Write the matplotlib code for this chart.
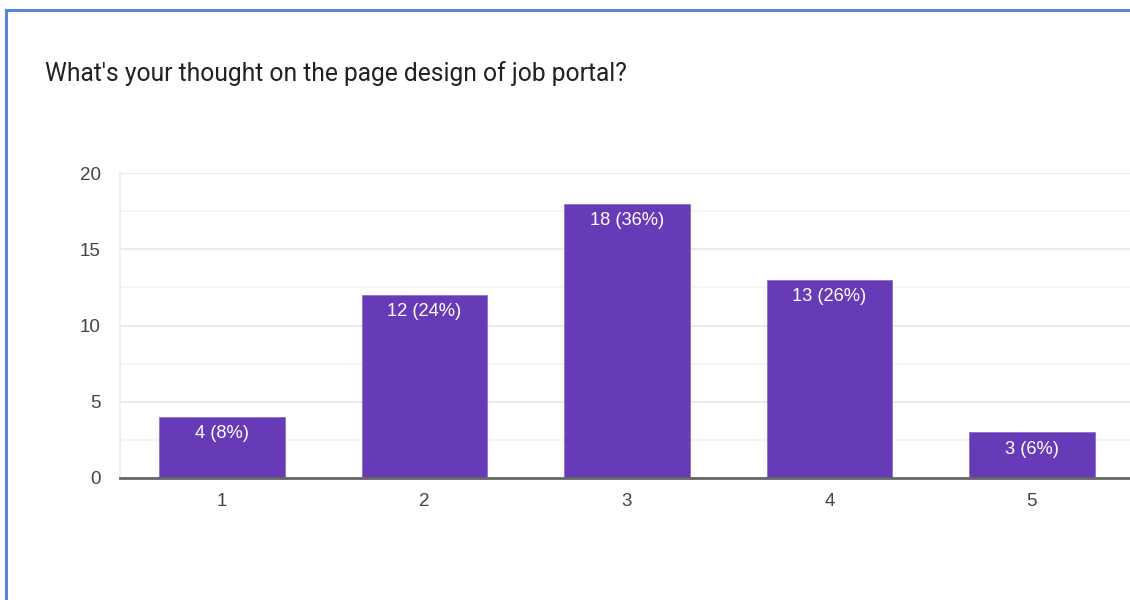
import matplotlib.pyplot as plt
from matplotlib.lines import Line2D

plt.rcParams['font.family'] = ['Liberation Sans', 'DejaVu Sans']

ratings = ['1', '2', '3', '4', '5']
counts = [4, 12, 18, 13, 3]
percents = [8, 24, 36, 26, 6]
title = "What's your thought on the page design of job portal?"

W, H = 1130, 600
fig = plt.figure(figsize=(W / 100, H / 100), dpi=100)

# card outline (blue, top and left edges)
fig.add_artist(Line2D([6 / W, 1], [1 - 10 / H, 1 - 10 / H], color='#5b85d6', lw=2.2))
fig.add_artist(Line2D([6 / W, 6 / W], [0, 1 - 10 / H], color='#5b85d6', lw=2.2))

fig.text(45 / W, 1 - 74 / H, title, fontsize=17.7, color='#202124', va='center',
         family=['Roboto', 'DejaVu Sans'])

ax = fig.add_axes([120 / W, 1 - 478 / H, 1013 / W, 305 / H])
x = list(range(1, len(ratings) + 1))
bars = ax.bar(x, counts, width=0.62, color='#673ab7', edgecolor='#8e6fd0', linewidth=0.6, zorder=3)

ax.set_xlim(0.495, 5.5)
ax.set_ylim(0, 20)
ax.set_yticks([0, 5, 10, 15, 20])
ax.set_yticks([2.5, 7.5, 12.5, 17.5], minor=True)
ax.set_xticks(x)
ax.set_xticklabels(ratings)
ax.grid(axis='y', which='major', color='#e8e8e8', lw=1.2, zorder=0)
ax.grid(axis='y', which='minor', color='#f3f3f3', lw=1.2, zorder=0)
ax.tick_params(axis='both', which='both', length=0, labelsize=13.5, labelcolor='#444444')
ax.tick_params(axis='y', pad=14)
ax.tick_params(axis='x', pad=11)

for s in ['top', 'right']:
    ax.spines[s].set_visible(False)
ax.spines['left'].set_color('#ececec')
ax.spines['left'].set_linewidth(1.2)
ax.spines['bottom'].set_color('#666666')
ax.spines['bottom'].set_linewidth(2)
ax.spines['bottom'].set_zorder(4)

for xi, c, p in zip(x, counts, percents):
    ax.annotate(f'{c} ({p}%)', (xi, c), xytext=(0, -6), textcoords='offset points',
                ha='center', va='top', color='white', fontsize=13.2, zorder=5)

fig.savefig('out.png', dpi=100, facecolor='white')
